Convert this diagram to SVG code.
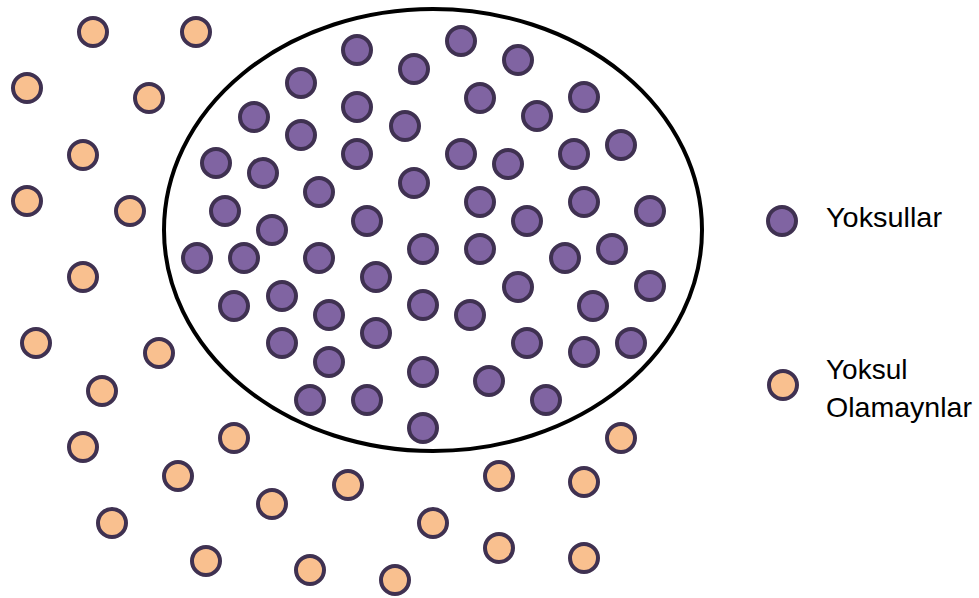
<svg xmlns="http://www.w3.org/2000/svg" width="979" height="598" viewBox="0 0 979 598">
<style>
.p{fill:#8064A2;stroke:#3F3151;stroke-width:4}
.o{fill:#F9C08F;stroke:#3F3151;stroke-width:4}
.t{font-family:"Liberation Sans",Arial,sans-serif;font-size:28px;fill:#000}
</style>
<rect width="979" height="598" fill="#fff"/>
<g id="boundary"><ellipse cx="433" cy="230" rx="269" ry="221" fill="none" stroke="#000" stroke-width="4"/></g>
<g id="yoksullar-dots">
<circle class="p" cx="357" cy="50" r="14"/><circle class="p" cx="461" cy="41" r="14"/><circle class="p" cx="518" cy="60" r="14"/><circle class="p" cx="414" cy="69" r="14"/>
<circle class="p" cx="301" cy="83" r="14"/><circle class="p" cx="480" cy="98" r="14"/><circle class="p" cx="584" cy="97" r="14"/><circle class="p" cx="357" cy="107" r="14"/>
<circle class="p" cx="254" cy="117" r="14"/><circle class="p" cx="537" cy="116" r="14"/><circle class="p" cx="405" cy="126" r="14"/><circle class="p" cx="301" cy="135" r="14"/>
<circle class="p" cx="621" cy="145" r="14"/><circle class="p" cx="357" cy="154" r="14"/><circle class="p" cx="461" cy="154" r="14"/><circle class="p" cx="508" cy="164" r="14"/>
<circle class="p" cx="574" cy="154" r="14"/><circle class="p" cx="216" cy="163" r="14"/><circle class="p" cx="263" cy="173" r="14"/><circle class="p" cx="414" cy="183" r="14"/>
<circle class="p" cx="319" cy="192" r="14"/><circle class="p" cx="480" cy="202" r="14"/><circle class="p" cx="584" cy="202" r="14"/><circle class="p" cx="650" cy="211" r="14"/>
<circle class="p" cx="225" cy="211" r="14"/><circle class="p" cx="367" cy="221" r="14"/><circle class="p" cx="527" cy="221" r="14"/><circle class="p" cx="272" cy="230" r="14"/>
<circle class="p" cx="423" cy="249" r="14"/><circle class="p" cx="480" cy="249" r="14"/><circle class="p" cx="612" cy="249" r="14"/><circle class="p" cx="197" cy="258" r="14"/>
<circle class="p" cx="244" cy="258" r="14"/><circle class="p" cx="319" cy="258" r="14"/><circle class="p" cx="565" cy="258" r="14"/><circle class="p" cx="376" cy="277" r="14"/>
<circle class="p" cx="518" cy="287" r="14"/><circle class="p" cx="650" cy="286" r="14"/><circle class="p" cx="282" cy="296" r="14"/><circle class="p" cx="234" cy="306" r="14"/>
<circle class="p" cx="329" cy="315" r="14"/><circle class="p" cx="423" cy="305" r="14"/><circle class="p" cx="470" cy="315" r="14"/><circle class="p" cx="593" cy="306" r="14"/>
<circle class="p" cx="376" cy="333" r="14"/><circle class="p" cx="282" cy="343" r="14"/><circle class="p" cx="527" cy="343" r="14"/><circle class="p" cx="584" cy="352" r="14"/>
<circle class="p" cx="631" cy="343" r="14"/><circle class="p" cx="329" cy="362" r="14"/><circle class="p" cx="423" cy="372" r="14"/><circle class="p" cx="489" cy="381" r="14"/>
<circle class="p" cx="310" cy="400" r="14"/><circle class="p" cx="367" cy="400" r="14"/><circle class="p" cx="546" cy="400" r="14"/><circle class="p" cx="423" cy="428" r="14"/>
</g>
<g id="yoksul-olamayanlar-dots">
<circle class="o" cx="93" cy="32" r="14"/><circle class="o" cx="196" cy="32" r="14"/><circle class="o" cx="27" cy="88" r="14"/><circle class="o" cx="149" cy="98" r="14"/>
<circle class="o" cx="83" cy="155" r="14"/><circle class="o" cx="27" cy="201" r="14"/><circle class="o" cx="130" cy="211" r="14"/><circle class="o" cx="83" cy="277" r="14"/>
<circle class="o" cx="36" cy="343" r="14"/><circle class="o" cx="159" cy="353" r="14"/><circle class="o" cx="102" cy="391" r="14"/><circle class="o" cx="83" cy="447" r="14"/>
<circle class="o" cx="234" cy="438" r="14"/><circle class="o" cx="178" cy="476" r="14"/><circle class="o" cx="112" cy="523" r="14"/><circle class="o" cx="272" cy="504" r="14"/>
<circle class="o" cx="206" cy="561" r="14"/><circle class="o" cx="310" cy="570" r="14"/><circle class="o" cx="348" cy="485" r="14"/><circle class="o" cx="395" cy="580" r="14"/>
<circle class="o" cx="433" cy="523" r="14"/><circle class="o" cx="499" cy="476" r="14"/><circle class="o" cx="499" cy="548" r="14"/><circle class="o" cx="584" cy="482" r="14"/>
<circle class="o" cx="584" cy="558" r="14"/><circle class="o" cx="621" cy="438" r="14"/>
</g>
<g id="legend-yoksullar">
<circle class="p" cx="782" cy="221" r="14"/>
<text class="t" x="826" y="227" textLength="116" lengthAdjust="spacingAndGlyphs">Yoksullar</text>
</g>
<g id="legend-yoksul-olamayanlar">
<circle class="o" cx="783" cy="385" r="14"/>
<text class="t" x="826" y="379">Yoksul</text>
<text class="t" x="826" y="417" textLength="146" lengthAdjust="spacingAndGlyphs">Olamaynlar</text>
</g>
</svg>
